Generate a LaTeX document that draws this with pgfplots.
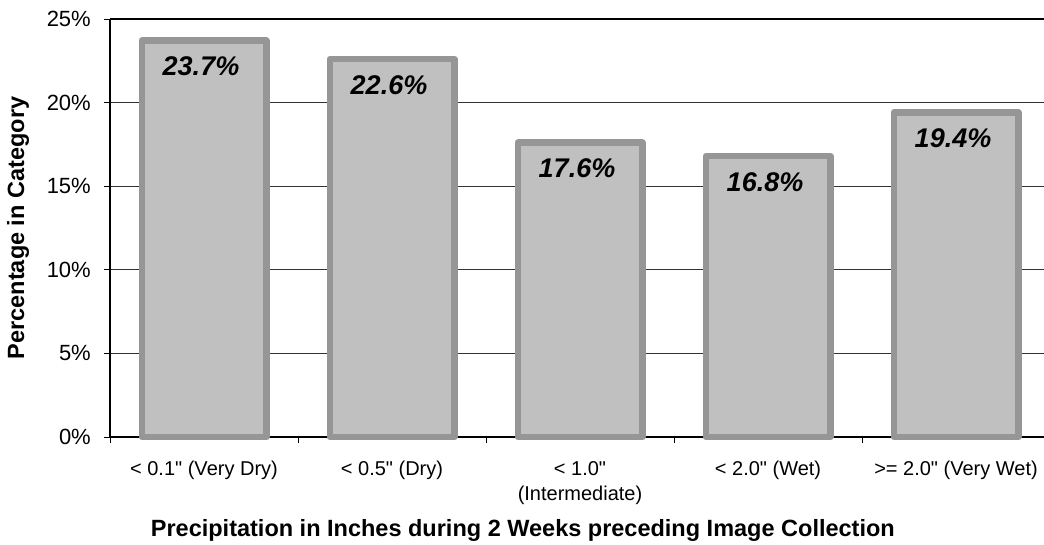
\documentclass[border=0pt]{standalone}
\usepackage{fontspec}
\setmainfont{Liberation Sans}[Ligatures=TeXOff]
\usepackage{pgfplots}
\pgfplotsset{compat=1.18}
\definecolor{barfill}{HTML}{C0C0C0}
\definecolor{barline}{HTML}{969696}
\begin{document}
\begin{tikzpicture}[x=1pt,y=1pt]
\useasboundingbox (-110,-107) rectangle (934,437);
\begin{axis}[
  at={(0,0)}, anchor=south west,
  scale only axis, width=934pt, height=418pt,
  xmin=-0.5, xmax=4.468, ymin=0, ymax=25,
  axis x line=bottom, axis y line=left,
  axis line style={-, line width=2.5pt, black},
  clip=false,
  /pgf/number format/assume math mode=true,
  ytick={0,5,...,25},
  yticklabel={\pgfmathprintnumber{\tick}\%},
  yticklabel style={font=\fontsize{22}{24}\selectfont, inner sep=0pt, xshift=-13pt},
  ymajorgrids, grid style={black!80, line width=0.8pt},
  extra y ticks={25}, extra y tick labels={},
  extra y tick style={grid style={black, line width=2.5pt}, major tick length=0pt},
  tick align=outside, major tick length=6pt,
  tick style={black, line width=0.8pt},
  xtick={-0.5,0.5,1.5,2.5,3.5,4.5}, xticklabels={},
  extra x ticks={0,1,2,3,4},
  extra x tick labels={{< 0.1" (Very Dry)},{< 0.5" (Dry)},{< 1.0"\\(Intermediate)},{< 2.0" (Wet)},{>= 2.0" (Very Wet)}},
  extra x tick style={major tick length=0pt, xticklabel style={font=\fontsize{20}{25}\selectfont, align=center, anchor=north, inner sep=0pt, yshift=-24pt}},
  xlabel={Precipitation in Inches during 2 Weeks preceding Image Collection},
  xlabel style={font=\bfseries\fontsize{23.5}{26}\selectfont, at={(axis description cs:0.442,-0.224)}, anchor=center},
  ylabel={Percentage in Category},
  ylabel style={font=\bfseries\fontsize{23.5}{26}\selectfont, at={(axis description cs:-0.0985,0.5)}, anchor=center},
]
\addplot[ybar, bar width=124.5pt, fill=barfill, draw=barline, line width=6.5pt, line join=round,
  nodes near coords={\pgfmathprintnumber[fixed,precision=1,fixed zerofill]{\pgfplotspointmeta}\%},
  every node near coord/.append style={anchor=north, inner sep=0pt, yshift=-13pt, xshift=-3pt, text=black,
    font=\bfseries\itshape\fontsize{27}{30}\selectfont}]
  coordinates {(0,23.7) (1,22.6) (2,17.6) (3,16.8) (4,19.4)};
\end{axis}
\end{tikzpicture}
\end{document}
